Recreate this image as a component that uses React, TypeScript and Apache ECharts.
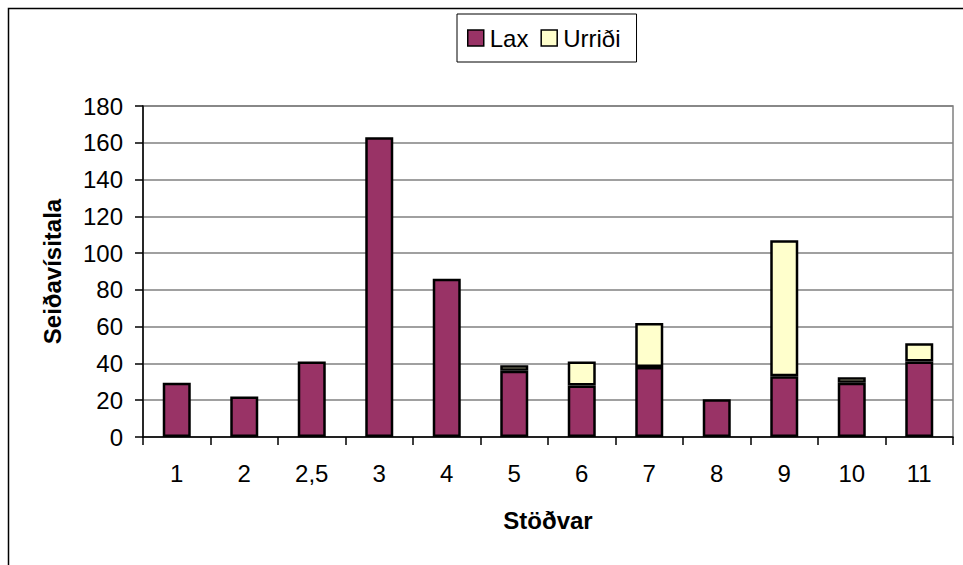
import React, { useEffect, useRef } from "react";
import * as echarts from "echarts";

const categories = ["1", "2", "2,5", "3", "4", "5", "6", "7", "8", "9", "10", "11"];
const laxValues = [29.5, 22, 41, 163, 86, 36, 28, 38, 20.5, 33, 29.5, 41];
const urridiValues: (number | null)[] = [null, null, null, null, null, 3, 13, 24, null, 74, 3, 10];
const yTicks = { min: 0, max: 180, interval: 20 };

const FONT = "'Liberation Sans', Arial, sans-serif";

export default function App() {
  const ref = useRef<HTMLDivElement>(null);
  useEffect(() => {
    if (!ref.current) return;
    const chart = echarts.init(ref.current, undefined, { renderer: "svg" });
    chart.setOption({
      animation: false,
      backgroundColor: "#ffffff",
      textStyle: { fontFamily: FONT },
      graphic: [
        {
          type: "rect",
          shape: { x: 8.5, y: 8.5, width: 1000, height: 1000 },
          style: { fill: "none", stroke: "#000", lineWidth: 1.5 },
          silent: true,
        },
      ],
      legend: {
        data: ["Lax", "Urriði"],
        left: 457,
        top: 14,
        orient: "horizontal",
        icon: "rect",
        itemWidth: 16,
        itemHeight: 16,
        itemGap: 12,
        padding: [12, 16, 12, 10],
        borderColor: "#000",
        borderWidth: 1,
        textStyle: { fontFamily: FONT, fontSize: 24, color: "#000", padding: [0, 0, 0, 1] },
        itemStyle: { borderColor: "#000", borderWidth: 1.5 },
      },
      grid: {
        left: 143,
        top: 106,
        right: 10,
        bottom: 128,
        show: true,
        borderColor: "#808080",
        borderWidth: 1.5,
        backgroundColor: "transparent",
      },
      xAxis: {
        type: "category",
        data: categories,
        name: "Stöðvar",
        nameLocation: "middle",
        nameGap: 71,
        nameTextStyle: { fontFamily: FONT, fontSize: 24, fontWeight: "bold", color: "#000" },
        axisLine: { lineStyle: { color: "#000", width: 1.5 } },
        axisTick: { show: true, length: 8, lineStyle: { color: "#000", width: 1.5 } },
        axisLabel: { fontFamily: FONT, fontSize: 24, color: "#000", margin: 24 },
        splitLine: { show: false },
      },
      yAxis: {
        type: "value",
        min: yTicks.min,
        max: yTicks.max,
        interval: yTicks.interval,
        name: "Seiðavísitala",
        nameLocation: "middle",
        nameGap: 79,
        nameTextStyle: { fontFamily: FONT, fontSize: 24, fontWeight: "bold", color: "#000" },
        axisLine: { show: true, lineStyle: { color: "#000", width: 1.5 } },
        axisTick: { show: true, length: 8, lineStyle: { color: "#000", width: 1.5 } },
        axisLabel: { fontFamily: FONT, fontSize: 24, color: "#000", margin: 20 },
        splitLine: { show: true, lineStyle: { color: "#808080", width: 1.5 } },
      },
      series: [
        {
          name: "Lax",
          type: "bar",
          stack: "total",
          data: laxValues,
          barWidth: 28,
          itemStyle: { color: "#993366", borderColor: "#000", borderWidth: 2.5 },
        },
        {
          name: "Urriði",
          type: "bar",
          stack: "total",
          data: urridiValues,
          barWidth: 28,
          itemStyle: { color: "#FFFFCC", borderColor: "#000", borderWidth: 2.5 },
        },
      ],
    });
    return () => chart.dispose();
  }, []);
  return (
    <div
      ref={ref}
      style={{ position: "fixed", left: 0, top: 0, width: 963, height: 565, background: "#fff" }}
    />
  );
}
